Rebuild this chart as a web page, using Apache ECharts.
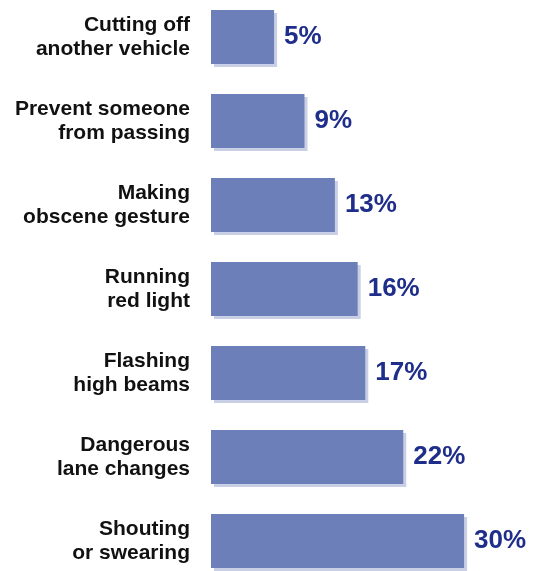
<!DOCTYPE html>
<html>
<head>
<meta charset="utf-8">
<script src="https://cdn.jsdelivr.net/npm/echarts@6/dist/echarts.min.js"></script>
<style>
  html, body { margin: 0; padding: 0; background: #fff; }
  #chart { width: 540px; height: 571px; }
</style>
</head>
<body>
<div id="chart"></div>
<script>
// 数据
const categories = [
  'Cutting off\nanother vehicle',
  'Prevent someone\nfrom passing',
  'Making\nobscene gesture',
  'Running\nred light',
  'Flashing\nhigh beams',
  'Dangerous\nlane changes',
  'Shouting\nor swearing'
]
const values = [5, 9, 13, 16, 17, 22, 30]

// 坐标轴范围 (bars start at axisStart)
const axisStart = -3.3
const axisEnd = 36.7

const chart = echarts.init(document.getElementById('chart'))

const option = {
  animation: false,
  grid: {
    left: 211,
    width: 304,
    top: -5,
    height: 588,
    outerBoundsMode: 'none'
  },
  xAxis: {
    type: 'value',
    min: axisStart,
    max: axisEnd,
    startValue: axisStart,
    splitLine: { show: false },
    axisLabel: { show: false },
    axisTick: { show: false },
    axisLine: { show: false }
  },
  yAxis: {
    type: 'category',
    inverse: true,
    data: categories,
    splitLine: { show: false },
    axisTick: { show: false },
    axisLine: { show: false },
    axisLabel: {
      margin: 21,
      fontFamily: 'Liberation Sans',
      fontSize: 21,
      fontWeight: 'bold',
      lineHeight: 24,
      color: '#111'
    }
  },
  series: [
    {
      type: 'bar',
      data: values,
      barWidth: 54,
      itemStyle: {
        color: '#6d7fb8',
        shadowColor: '#c9cfe4',
        shadowOffsetX: 3,
        shadowOffsetY: 3,
        shadowBlur: 0
      },
      label: {
        show: true,
        position: 'right',
        distance: 10,
        fontFamily: 'Liberation Sans',
        fontSize: 26,
        fontWeight: 'bold',
        color: '#1f2e8a',
        formatter: (p) => `${p.value}%`
      }
    }
  ]
}

chart.setOption(option)
</script>
</body>
</html>
